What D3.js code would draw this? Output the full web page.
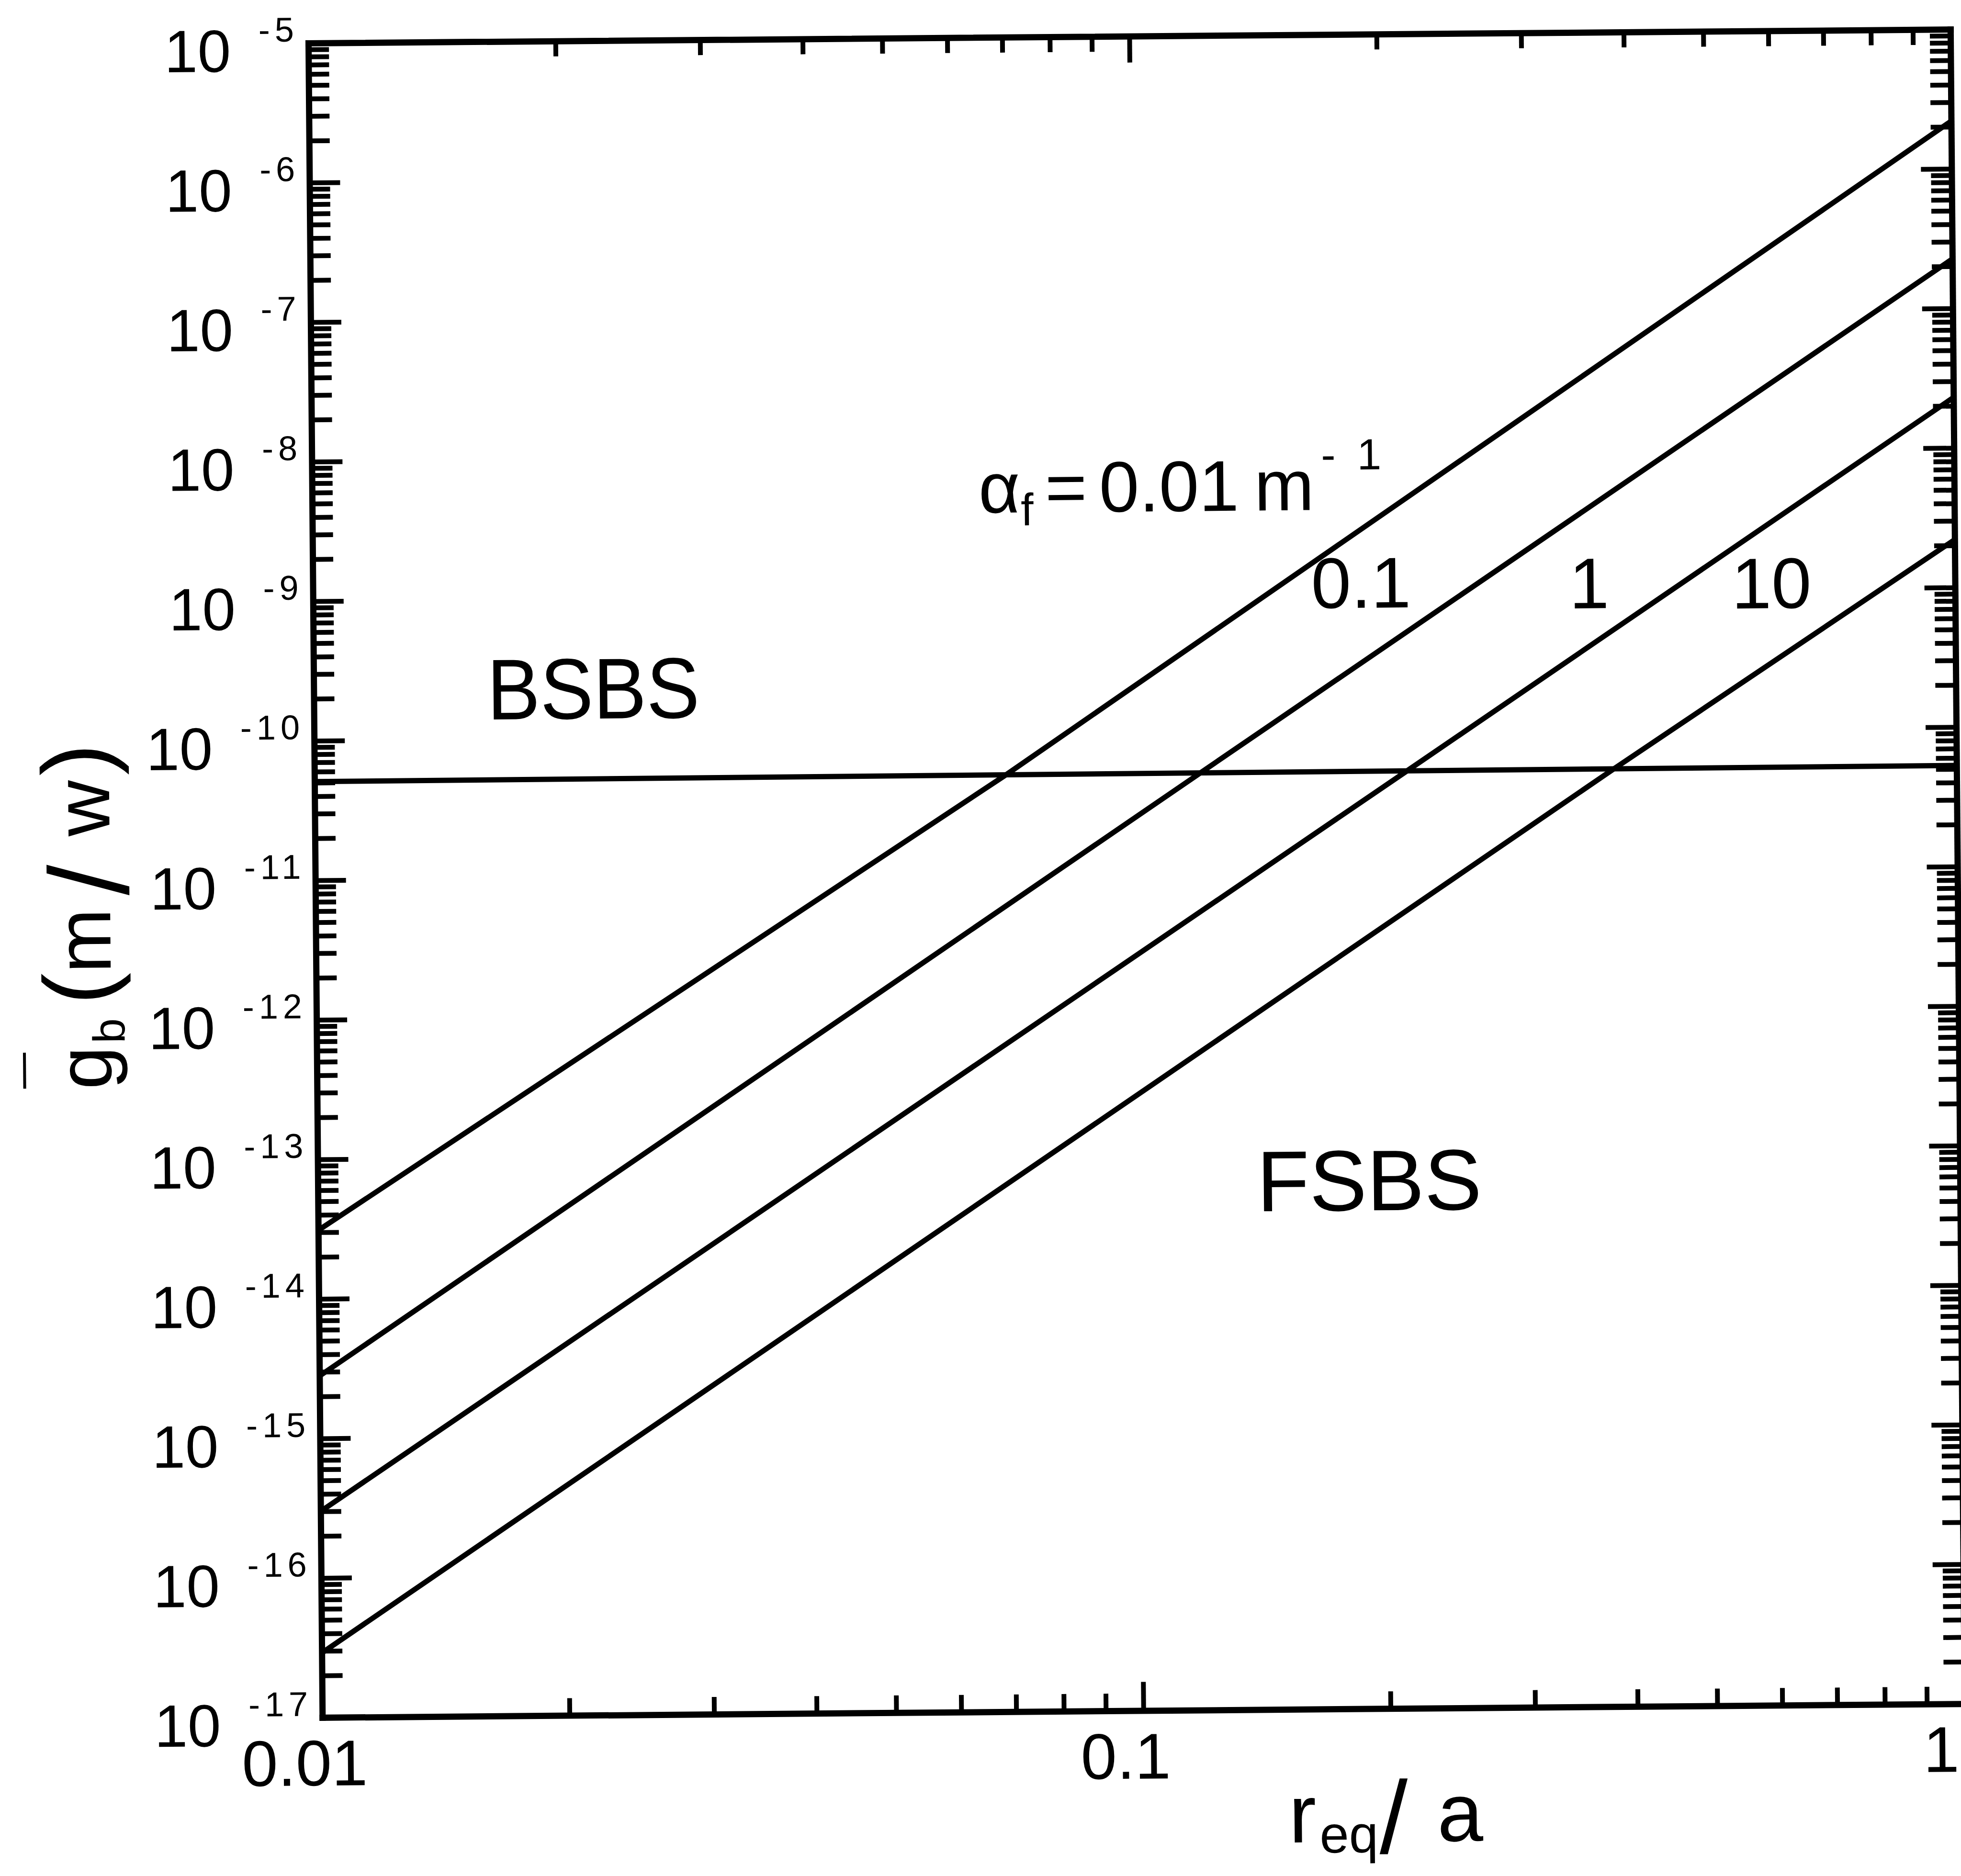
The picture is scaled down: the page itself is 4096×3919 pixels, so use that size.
<!DOCTYPE html>
<html>
<head>
<meta charset="utf-8">
<script src="https://cdn.jsdelivr.net/npm/d3@7"></script>
<style>
  html, body { margin: 0; padding: 0; background: #fff; overflow: hidden; }
</style>
</head>
<body>
<svg id="chart" width="4096" height="3919"></svg>
<script>
// ---------------- data ----------------
const alphaValues = ["0.01", "0.1", "1", "10"];            // alpha_f (m^-1) of each curve
const curveX = [                                           // r_eq / a
  [0.01, 0.0696, 1],
  [0.01, 0.1199, 1],
  [0.01, 0.2138, 1],
  [0.01, 0.3814, 1]
];
const curveY = [                                           // g_b (m/W)
  [3.1e-14, 5.2e-11, 2.2e-6],
  [2.8e-15, 5.2e-11, 2.26e-7],
  [3.0e-16, 5.2e-11, 2.3e-8],
  [2.9e-17, 5.2e-11, 2.2e-9]
];
const thresholdX = [0.01, 1];
const thresholdY = [5.1e-11, 5.3e-11];
const xDomain = [0.01, 1];
const yDomain = [1e-17, 1e-5];
const xMajorTicks = [0.01, 0.1, 1];
const xTickLabels = ["0.01", "0.1", "1"];
const yExponents = [-17, -16, -15, -14, -13, -12, -11, -10, -9, -8, -7, -6, -5];
const regionLabels = ["BSBS", "FSBS"];

// ---------------- layout ----------------
const FONT = "'Liberation Sans', Arial, Helvetica, sans-serif";
const ox = 644, oy = 90, W = 3430, H = 3498, tilt = -0.48;

const svg = d3.select("#chart").attr("font-family", FONT);
svg.append("rect").attr("width", 4096).attr("height", 3919).attr("fill", "#fff");
const g = svg.append("g")
  .attr("transform", `rotate(${tilt},${ox},${oy}) translate(${ox},${oy})`);

const x = d3.scaleLog().domain(xDomain).range([0, W]);
const y = d3.scaleLog().domain(yDomain).range([H, 0]);

const xMinor = [];
xMajorTicks.slice(0, -1).forEach(d => { for (let k = 2; k <= 9; k++) xMinor.push(+(k * d).toPrecision(3)); });
const yMajor = yExponents.map(e => Math.pow(10, e));
const yMinor = [];
yExponents.slice(0, -1).forEach(e => { for (let k = 2; k <= 9; k++) yMinor.push(k * Math.pow(10, e)); });

function styleAxis(sel, keepDomain) {
  sel.attr("font-family", FONT).attr("font-size", null);
  sel.selectAll(".tick line").attr("stroke", "#000").attr("stroke-width", 10);
  if (keepDomain) {
    sel.select(".domain").attr("stroke", "#000").attr("stroke-width", 13)
      .attr("stroke-linecap", "square").attr("fill", "none");
  } else {
    sel.select(".domain").remove();
  }
}

// minor ticks
styleAxis(g.append("g").call(d3.axisLeft(y).tickValues(yMinor).tickSizeInner(-43).tickSizeOuter(0).tickFormat("")), false);
styleAxis(g.append("g").attr("transform", `translate(${W},0)`)
  .call(d3.axisRight(y).tickValues(yMinor).tickSizeInner(-43).tickSizeOuter(0).tickFormat("")), false);
styleAxis(g.append("g").attr("transform", `translate(0,${H})`)
  .call(d3.axisBottom(x).tickValues(xMinor).tickSizeInner(-36).tickSizeOuter(0).tickFormat("")), false);
styleAxis(g.append("g")
  .call(d3.axisTop(x).tickValues(xMinor).tickSizeInner(-32).tickSizeOuter(0).tickFormat("")), false);

// major ticks + frame
const gLeft = g.append("g")
  .call(d3.axisLeft(y).tickValues(yMajor).tickSizeInner(-64).tickSizeOuter(0).tickPadding(20).tickFormat(() => "10"));
styleAxis(gLeft, true);
gLeft.selectAll(".tick text").each(function (d) {
  const t = d3.select(this);
  const e = Math.round(Math.log10(d));
  t.text(null).attr("x", -20).attr("y", 58).attr("dy", null)
    .attr("text-anchor", "end").attr("fill", "#000").attr("font-size", 125);
  t.append("tspan").attr("font-size", 125).text("10");
  t.append("tspan").attr("font-size", 72).attr("dx", 58).attr("dy", -62)
    .attr("letter-spacing", 10).text(String(e));
});

styleAxis(g.append("g").attr("transform", `translate(${W},0)`)
  .call(d3.axisRight(y).tickValues(yMajor).tickSizeInner(-64).tickSizeOuter(0).tickFormat("")), true);

const gBottom = g.append("g").attr("transform", `translate(0,${H})`)
  .call(d3.axisBottom(x).tickValues(xMajorTicks).tickSizeInner(-60).tickSizeOuter(0)
    .tickFormat((d, i) => xTickLabels[i]));
styleAxis(gBottom, true);
gBottom.selectAll(".tick text")
  .attr("y", 142).attr("dy", null)
  .attr("text-anchor", d => (d === 1 ? "end" : "middle"))
  .attr("dx", d => (d === 1 ? -12 : -38))
  .attr("font-size", 135).attr("fill", "#000");

styleAxis(g.append("g")
  .call(d3.axisTop(x).tickValues(xMajorTicks).tickSizeInner(-55).tickSizeOuter(0).tickFormat("")), true);

// ---------------- curves ----------------
const line = d3.line().x(d => x(d[0])).y(d => y(d[1]));
alphaValues.forEach((a, i) => {
  const pts = curveX[i].map((xv, j) => [xv, curveY[i][j]]);
  g.append("path").datum(pts).attr("d", line)
    .attr("fill", "none").attr("stroke", "#000").attr("stroke-width", 11)
    .attr("stroke-linejoin", "round").attr("stroke-linecap", "butt");
});
g.append("path").datum(thresholdX.map((xv, j) => [xv, thresholdY[j]])).attr("d", line)
  .attr("fill", "none").attr("stroke", "#000").attr("stroke-width", 11);

// ---------------- annotations ----------------
const ann = g.append("text").attr("font-size", 150).attr("fill", "#000");
const ax0 = 1392, ab = 993;
ann.append("tspan").attr("x", ax0).attr("y", ab).text("α");
ann.append("tspan").attr("x", ax0 + 88).attr("y", ab + 27).attr("font-size", 95).text("f");
ann.append("tspan").attr("x", ax0 + 139).attr("y", ab).text("=");
ann.append("tspan").attr("x", ax0 + 252).attr("y", ab).text(alphaValues[0]);
ann.append("tspan").attr("x", ax0 + 576).attr("y", ab).text("m");
ann.append("tspan").attr("x", ax0 + 716).attr("y", ab - 84).attr("font-size", 91)
  .attr("letter-spacing", 45).text("-1");

const curveLabelPos = [null, [2085, 1198], [2624, 1203], [2963, 1206]];
alphaValues.forEach((a, i) => {
  if (!curveLabelPos[i]) return;
  g.append("text").attr("x", curveLabelPos[i][0]).attr("y", curveLabelPos[i][1])
    .attr("font-size", 150).attr("fill", "#000").text(a);
});

g.append("text").attr("x", 362).attr("y", 1416).attr("font-size", 180).attr("fill", "#000")
  .attr("textLength", 444).attr("lengthAdjust", "spacingAndGlyphs").text(regionLabels[0]);
g.append("text").attr("x", 1961).attr("y", 2457).attr("font-size", 180).attr("fill", "#000")
  .text(regionLabels[1]);

// x axis title: r_eq / a
const xt = g.append("text").attr("fill", "#000");
const xtb = 3776;
xt.append("tspan").attr("x", 2017).attr("y", xtb).attr("font-size", 172).text("r");
xt.append("tspan").attr("x", 2081).attr("y", xtb + 22).attr("font-size", 110).text("eq");
xt.append("tspan").attr("x", 2206).attr("y", xtb + 24).attr("font-size", 215).text("/");
xt.append("tspan").attr("x", 2327).attr("y", xtb).attr("font-size", 172).text("a");

// y axis title: g-bar_b (m/w)
const yg = g.append("g").attr("transform", "translate(-429,2182) rotate(-90)");
const yt = yg.append("text").attr("fill", "#000");
yt.append("tspan").attr("x", 0).attr("y", 0).attr("font-size", 162).text("g");
yt.append("tspan").attr("x", 96).attr("y", 28).attr("font-size", 94).text("b");
yt.append("tspan").attr("x", 177).attr("y", 0).attr("font-size", 200).text("(");
yt.append("tspan").attr("x", 243).attr("y", 0).attr("font-size", 162).text("m");
yt.append("tspan").attr("x", 405).attr("y", 38).attr("font-size", 235).text("/");
yt.append("tspan").attr("x", 529).attr("y", 0).attr("font-size", 162).text("w");
yt.append("tspan").attr("x", 656).attr("y", 0).attr("font-size", 200).text(")");
yg.append("text").attr("x", 4).attr("y", -85).attr("font-size", 132).attr("fill", "#000").text("¯");
</script>
</body>
</html>
